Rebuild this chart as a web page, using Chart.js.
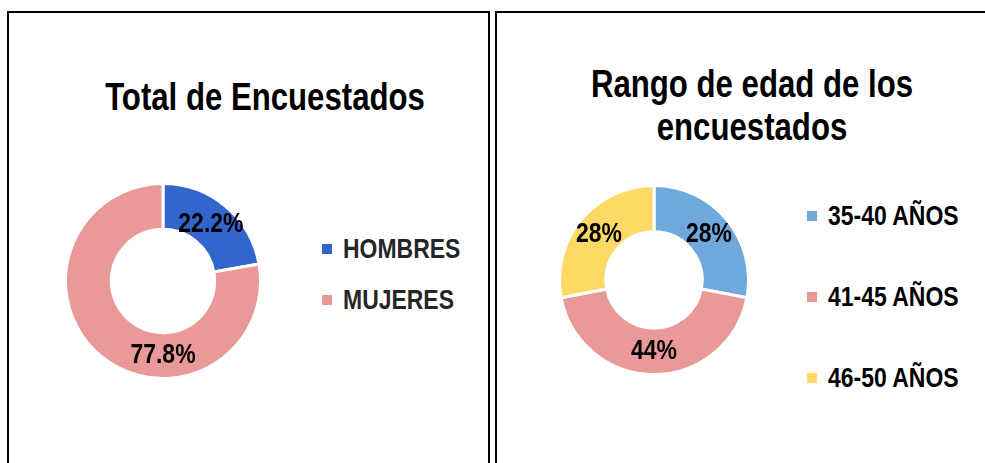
<!DOCTYPE html>
<html>
<head>
<meta charset="utf-8">
<script src="https://cdn.jsdelivr.net/npm/chart.js@4/dist/chart.umd.min.js"></script>
<style>
  html, body { margin: 0; padding: 0; background: #fff; }
  body {
    width: 985px; height: 463px; position: relative; overflow: hidden;
    font-family: 'Liberation Sans', Arial, sans-serif;
    font-weight: bold;
  }
  .panel { position: absolute; top: 11px; height: 470px; box-sizing: border-box; border: 2px solid #000; }
  #panelSexo { left: 7px; width: 483px; }
  #panelEdad { left: 495px; width: 520px; }
  /* Arial Narrow look: Liberation Sans squeezed to 82% */
  .title {
    position: absolute; width: 500px; text-align: center; white-space: nowrap;
    font-size: 38px; line-height: 43.4px; color: #000;
    transform: scaleX(0.82); transform-origin: 50% 0;
  }
  #titleSexo { left: 15px; top: 76px; }
  #titleEdad { left: 502px; top: 63px; }
  .legend { position: absolute; margin: 0; padding: 0; list-style: none; font-size: 28px; }
  .legend li { display: flex; align-items: center; line-height: 28px; white-space: nowrap; }
  .legend .box { width: 10px; height: 10px; margin-right: 11px; flex: none; }
  .legend .txt { display: inline-block; transform: scaleX(0.82); transform-origin: 0 50%; }
  #legendSexo { left: 322px; top: 223px; color: #262626; }
  #legendSexo li { height: 51px; }
  #legendEdad { left: 807px; top: 175px; color: #000; }
  #legendEdad li { height: 81px; }
  canvas { position: absolute; }
  #chartSexo { left: 63px; top: 181px; }
  #chartEdad { left: 557px; top: 183px; }
</style>
</head>
<body>
<div class="panel" id="panelSexo"></div>
<div class="panel" id="panelEdad"></div>

<div class="title" id="titleSexo">Total de Encuestados</div>
<div class="title" id="titleEdad">Rango de edad de los<br>encuestados</div>

<canvas id="chartSexo" width="200" height="200"></canvas>
<canvas id="chartEdad" width="194" height="194"></canvas>

<ul class="legend" id="legendSexo"></ul>
<ul class="legend" id="legendEdad"></ul>

<script>
// Encuestados por sexo (%)
const sexoLabels = ['HOMBRES', 'MUJERES'];
const sexoValues = [22.2, 77.8];
const sexoColors = ['#3366CC', '#EA9999'];

// Rango de edad (%)
const edadLabels = ['35-40 AÑOS', '41-45 AÑOS', '46-50 AÑOS'];
const edadValues = [28, 44, 28];
const edadColors = ['#6FA8DC', '#EA9999', '#FFD966'];

const labelFont = 'bold 28px "Liberation Sans", Arial, sans-serif';

// Percent labels on the ring; an angle (degrees from the top, clockwise) can pin a label
Chart.register({
    id: 'sliceLabels',
    afterDatasetsDraw: function(chart, args, options) {
        const ctx = chart.ctx;
        const angles = options.angles || [];
        chart.data.datasets.forEach((dataset, i) => {
            chart.getDatasetMeta(i).data.forEach((arc, index) => {
                const p = arc.getProps(['x', 'y', 'startAngle', 'endAngle', 'innerRadius', 'outerRadius'], true);
                let a = (p.startAngle + p.endAngle) / 2;
                if (angles[index] != null) a = (angles[index] - 90) * Math.PI / 180;
                const r = (p.innerRadius + p.outerRadius) / 2;
                ctx.save();
                ctx.translate(p.x + Math.cos(a) * r, p.y + Math.sin(a) * r);
                ctx.scale(options.squeeze || 1, 1); // narrow face
                ctx.fillStyle = options.color || '#000';
                ctx.font = options.font || labelFont;
                ctx.textAlign = 'center';
                ctx.textBaseline = 'middle';
                ctx.fillText(dataset.data[index] + '%', 0, 0);
                ctx.restore();
            });
        });
    }
});

function makeDonut(canvasId, legendId, labels, values, colors, cutout, labelAngles) {
    const chart = new Chart(document.getElementById(canvasId), {
        type: 'doughnut',
        data: {
            labels: labels,
            datasets: [{
                data: values,
                backgroundColor: colors,
                borderColor: '#ffffff',
                borderWidth: 3
            }]
        },
        options: {
            responsive: false,
            animation: false,
            cutout: cutout,
            layout: { padding: 1 },
            events: [],
            plugins: {
                legend: { display: false },
                tooltip: { enabled: false },
                sliceLabels: { angles: labelAngles, color: '#000', font: labelFont, squeeze: 0.82 }
            }
        }
    });

    // HTML legend from the chart's own legend items
    const ul = document.getElementById(legendId);
    chart.options.plugins.legend.labels.generateLabels(chart).forEach(item => {
        const li = document.createElement('li');
        const box = document.createElement('span');
        box.className = 'box';
        box.style.background = item.fillStyle;
        const txt = document.createElement('span');
        txt.className = 'txt';
        txt.textContent = item.text;
        li.appendChild(box);
        li.appendChild(txt);
        ul.appendChild(li);
    });
    return chart;
}

makeDonut('chartSexo', 'legendSexo', sexoLabels, sexoValues, sexoColors, '53%', [null, 180]);
makeDonut('chartEdad', 'legendEdad', edadLabels, edadValues, edadColors, '51%', []);
</script>
</body>
</html>
